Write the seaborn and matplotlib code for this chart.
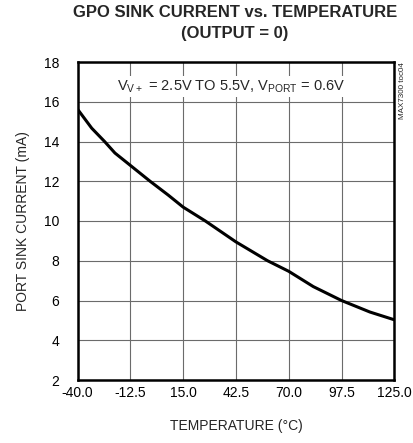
import matplotlib
matplotlib.use('Agg')
import matplotlib.pyplot as plt
from matplotlib import font_manager
import numpy as np
import pandas as pd
import seaborn as sns

# dados
temperatura = [-40.0, -32.6, -25.9, -20.5, -12.5, -2.2, 7.3, 15.0, 26.6, 42.5, 59.0, 70.0, 82.8, 97.5, 112.3, 125.0]
corrente = [15.63, 14.67, 14.0, 13.42, 12.8, 12.0, 11.3, 10.7, 10.0, 8.95, 8.0, 7.47, 6.7, 6.0, 5.42, 5.03]
xticks = [-40.0, -12.5, 15.0, 42.5, 70.0, 97.5, 125.0]
yticks = [2, 4, 6, 8, 10, 12, 14, 16, 18]

df = pd.DataFrame({'temp': temperatura, 'isink': corrente})

sns.set_style('white')
plt.rcParams['font.family'] = ['Liberation Sans', 'DejaVu Sans']

nomes = {f.name for f in font_manager.fontManager.ttflist}
if 'Liberation Sans Narrow' in nomes:
    fonte_titulo, tam_titulo = 'Liberation Sans Narrow', 14.5
else:
    fonte_titulo, tam_titulo = 'Liberation Sans', 12

fig = plt.figure(figsize=(4.13, 4.43), dpi=100)
ax = fig.add_axes([77.5 / 413, 1 - 380 / 443, (394.3 - 77.5) / 413, (380 - 62) / 443])

sns.lineplot(data=df, x='temp', y='isink', ax=ax, color='black', linewidth=2.2)

ax.set_xlim(-40, 125)
ax.set_ylim(2, 18)
ax.set_xticks(xticks)
ax.set_xticklabels([f'{t:.1f}' for t in xticks])
ax.set_yticks(yticks)
ax.grid(True, color='#6b6b6b', linewidth=0.8)
ax.tick_params(axis='both', length=0, labelsize=10, colors='black')
ax.tick_params(axis='y', pad=13)
ax.tick_params(axis='x', pad=4)
for s in ax.spines.values():
    s.set_color('black')
    s.set_linewidth(1.8)

ax.set_xlabel('TEMPERATURE (°C)', fontsize=10, labelpad=14)
ax.set_ylabel('PORT SINK CURRENT (mA)', fontsize=10, labelpad=10)

ax.text(-19.6, 16.75, r'V$_{\mathregular{V+}}$ = 2.5V TO 5.5V, V$_{\mathregular{PORT}}$ = 0.6V',
        fontsize=10.5, va='center', ha='left',
        bbox=dict(facecolor='white', edgecolor='none', pad=1.5))

fig.text(403 / 413, 1 - 62 / 443, 'MAX7300 toc04', rotation=90, fontsize=5.8,
         ha='center', va='top')

fig.text(0.569, 1 - 5 / 443, 'GPO SINK CURRENT vs. TEMPERATURE\n(OUTPUT = 0)',
         family=fonte_titulo, fontsize=tam_titulo, fontweight='bold',
         ha='center', va='top', linespacing=1.5)

fig.savefig('out.png', dpi=100)
